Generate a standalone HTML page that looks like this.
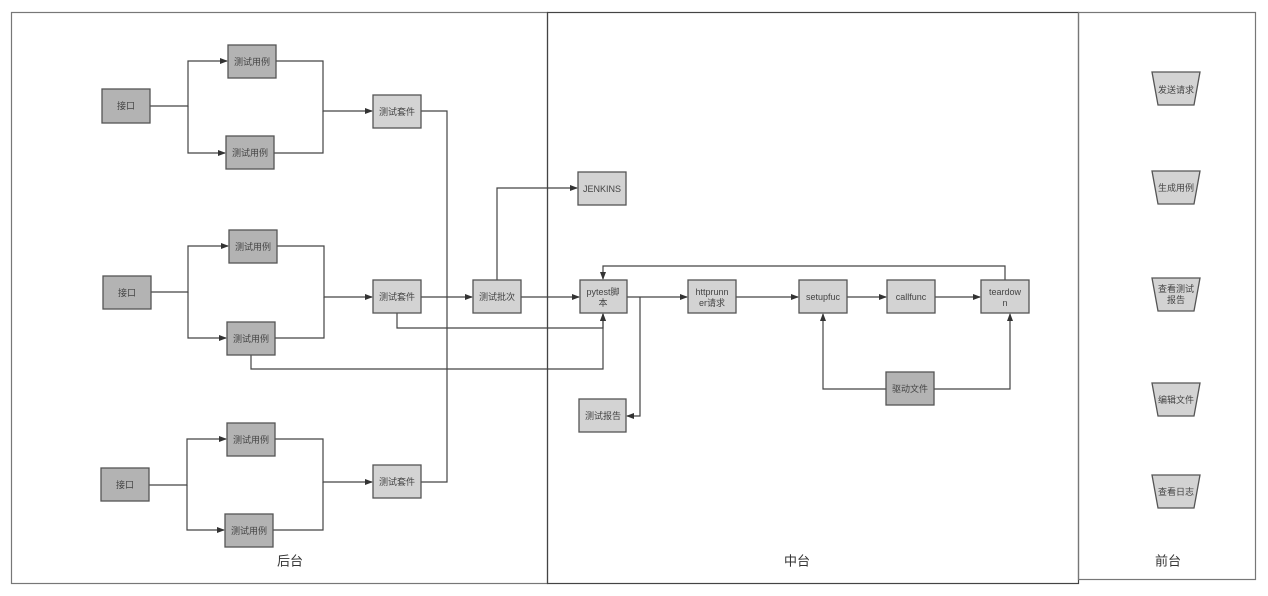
<!DOCTYPE html>
<html><head><meta charset="utf-8"><style>
html,body{margin:0;padding:0;background:#fff;width:1268px;height:596px;overflow:hidden}
svg{display:block}
text{font-family:"Liberation Sans","Noto Sans CJK SC",sans-serif;fill:#444;font-size:9px;text-anchor:middle;dominant-baseline:central}
.d{fill:#b3b3b3;stroke:#555;stroke-width:1.3}
.l{fill:#d3d3d3;stroke:#555;stroke-width:1.3}
.c{fill:none;stroke:#444;stroke-width:1.2}
.big{font-size:13px;fill:#333}
</style></head><body>
<svg width="1268" height="596" viewBox="0 0 1268 596">
<defs><marker id="a" markerWidth="8" markerHeight="6" refX="7" refY="3" orient="auto" markerUnits="userSpaceOnUse"><path d="M0,0L8,3L0,6z" fill="#333"/></marker></defs>
<rect x="11.5" y="12.5" width="536" height="571" fill="none" stroke="#777" stroke-width="1.2"/>
<rect x="547.5" y="12.5" width="531" height="571" fill="none" stroke="#444" stroke-width="1.2"/>
<rect x="1078.5" y="12.5" width="177" height="567" fill="none" stroke="#777" stroke-width="1.2"/>
<text x="290" y="561" class="big">后台</text>
<text x="797" y="561" class="big">中台</text>
<text x="1168" y="561" class="big">前台</text>

<!-- group 1 -->
<path class="c" d="M150,106H188V61H227" marker-end="url(#a)"/>
<path class="c" d="M188,106V153H225" marker-end="url(#a)"/>
<path class="c" d="M276,61H323V111H372" marker-end="url(#a)"/>
<path class="c" d="M274,153H323V111"/>
<!-- group 2 -->
<path class="c" d="M151,292H188V246H228" marker-end="url(#a)"/>
<path class="c" d="M188,292V338H226" marker-end="url(#a)"/>
<path class="c" d="M277,246H324V297H372" marker-end="url(#a)"/>
<path class="c" d="M275,338H324V297"/>
<!-- group 3 -->
<path class="c" d="M149,485H187V439H226" marker-end="url(#a)"/>
<path class="c" d="M187,485V530H224" marker-end="url(#a)"/>
<path class="c" d="M275,439H323V482H372" marker-end="url(#a)"/>
<path class="c" d="M273,530H323V482"/>
<!-- suite 1 & 3 to batch line -->
<path class="c" d="M421,111H447V482H421"/>
<path class="c" d="M421,297H472" marker-end="url(#a)"/>
<path class="c" d="M497,280V188H577" marker-end="url(#a)"/>
<path class="c" d="M521,297H579" marker-end="url(#a)"/>
<path class="c" d="M397,313V328H603V314" marker-end="url(#a)"/>
<path class="c" d="M251,355V369H603V314" marker-end="url(#a)"/>
<path class="c" d="M1005,280V266H603V279" marker-end="url(#a)"/>
<path class="c" d="M627,297H687" marker-end="url(#a)"/>
<path class="c" d="M640,297V416H627" marker-end="url(#a)"/>
<path class="c" d="M736,297H798" marker-end="url(#a)"/>
<path class="c" d="M847,297H886" marker-end="url(#a)"/>
<path class="c" d="M935,297H980" marker-end="url(#a)"/>
<path class="c" d="M886,389H823V314" marker-end="url(#a)"/>
<path class="c" d="M934,389H1010V314" marker-end="url(#a)"/>

<rect class="d" x="102" y="89" width="48" height="34"/><text x="126" y="106">接口</text>
<rect class="d" x="228" y="45" width="48" height="33"/><text x="252" y="62">测试用例</text>
<rect class="d" x="226" y="136" width="48" height="33"/><text x="250" y="153">测试用例</text>
<rect class="l" x="373" y="95" width="48" height="33"/><text x="397" y="112">测试套件</text>

<rect class="d" x="103" y="276" width="48" height="33"/><text x="127" y="293">接口</text>
<rect class="d" x="229" y="230" width="48" height="33"/><text x="253" y="247">测试用例</text>
<rect class="d" x="227" y="322" width="48" height="33"/><text x="251" y="339">测试用例</text>
<rect class="l" x="373" y="280" width="48" height="33"/><text x="397" y="297">测试套件</text>

<rect class="d" x="101" y="468" width="48" height="33"/><text x="125" y="485">接口</text>
<rect class="d" x="227" y="423" width="48" height="33"/><text x="251" y="440">测试用例</text>
<rect class="d" x="225" y="514" width="48" height="33"/><text x="249" y="531">测试用例</text>
<rect class="l" x="373" y="465" width="48" height="33"/><text x="397" y="482">测试套件</text>

<rect class="l" x="473" y="280" width="48" height="33"/><text x="497" y="297">测试批次</text>
<rect class="l" x="578" y="172" width="48" height="33"/><text x="602" y="189">JENKINS</text>
<rect class="l" x="580" y="280" width="47" height="33"/><text x="603" y="292">pytest脚</text><text x="603" y="303">本</text>
<rect class="l" x="579" y="399" width="47" height="33"/><text x="603" y="416">测试报告</text>
<rect class="l" x="688" y="280" width="48" height="33"/><text x="712" y="292">httprunn</text><text x="712" y="303">er请求</text>
<rect class="l" x="799" y="280" width="48" height="33"/><text x="823" y="297">setupfuc</text>
<rect class="l" x="887" y="280" width="48" height="33"/><text x="911" y="297">callfunc</text>
<rect class="l" x="981" y="280" width="48" height="33"/><text x="1005" y="292">teardow</text><text x="1005" y="303">n</text>
<rect class="d" x="886" y="372" width="48" height="33"/><text x="910" y="389">驱动文件</text>

<g class="l">
<path class="l" d="M1152,72H1200L1194,105H1158Z"/>
<path class="l" d="M1152,171H1200L1194,204H1158Z"/>
<path class="l" d="M1152,278H1200L1194,311H1158Z"/>
<path class="l" d="M1152,383H1200L1194,416H1158Z"/>
<path class="l" d="M1152,475H1200L1194,508H1158Z"/>
</g>
<text x="1176" y="90">发送请求</text>
<text x="1176" y="188">生成用例</text>
<text x="1176" y="289">查看测试</text><text x="1176" y="300">报告</text>
<text x="1176" y="400">编辑文件</text>
<text x="1176" y="492">查看日志</text>
</svg>
</body></html>
